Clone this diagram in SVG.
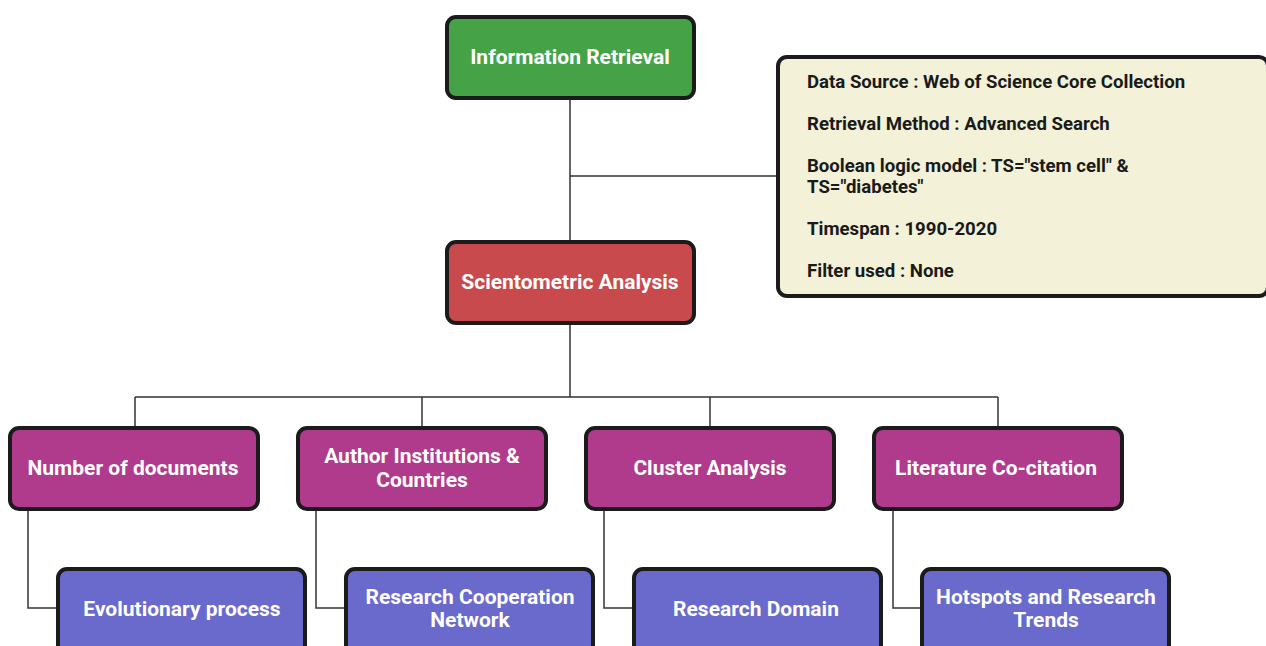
<svg xmlns="http://www.w3.org/2000/svg" width="1266" height="646" viewBox="0 0 1266 646">
<style>
.box{stroke:#1b1b1b;stroke-width:4}
.t{font-family:Roboto,"Liberation Sans",sans-serif;font-weight:bold;font-size:21px;fill:#ffffff;text-anchor:middle}
.i{font-family:Roboto,"Liberation Sans",sans-serif;font-weight:bold;font-size:18.6px;fill:#1a1a1a}
.c{fill:none;stroke:#333333;stroke-width:1.5}
</style>
<rect width="1266" height="646" fill="#ffffff"/>
<g id="connectors">
<path class="c" d="M570 98V241M570 176H777"/>
<path class="c" d="M570 323V397M135 397H998M135 397V427M422 397V427M710 397V427M998 397V427"/>
<path class="c" d="M28 509V608H57"/>
<path class="c" d="M316 509V608H345"/>
<path class="c" d="M604 509V608H633"/>
<path class="c" d="M893 509V608H921"/>
</g>
<g id="info-retrieval">
<rect class="box" x="447" y="17" width="247" height="81" rx="9" fill="#46a246"/>
<text class="t" x="570" y="64">Information Retrieval</text>
</g>
<g id="details">
<rect class="box" x="778" y="57" width="490" height="239" rx="9" fill="#f3f1d7"/>
<text class="i" x="807" y="88">Data Source : Web of Science Core Collection</text>
<text class="i" x="807" y="130">Retrieval Method : Advanced Search</text>
<text class="i" x="807" y="172">Boolean logic model : TS="stem cell" &amp;</text>
<text class="i" x="807" y="193">TS="diabetes"</text>
<text class="i" x="807" y="235">Timespan : 1990-2020</text>
<text class="i" x="807" y="277">Filter used : None</text>
</g>
<g id="scientometric">
<rect class="box" x="447" y="242" width="247" height="81" rx="9" fill="#c84a4c"/>
<text class="t" x="570" y="289">Scientometric Analysis</text>
</g>
<g id="number-docs">
<rect class="box" x="10" y="428" width="248" height="81" rx="9" fill="#b03a8c"/>
<text class="t" x="133" y="475">Number of documents</text>
</g>
<g id="author-inst">
<rect class="box" x="298" y="428" width="248" height="81" rx="9" fill="#b03a8c"/>
<text class="t" x="422" y="463">Author Institutions &amp;</text>
<text class="t" x="422" y="487">Countries</text>
</g>
<g id="cluster">
<rect class="box" x="586" y="428" width="248" height="81" rx="9" fill="#b03a8c"/>
<text class="t" x="710" y="475">Cluster Analysis</text>
</g>
<g id="co-citation">
<rect class="box" x="874" y="428" width="248" height="81" rx="9" fill="#b03a8c"/>
<text class="t" x="996" y="475">Literature Co-citation</text>
</g>
<g id="evolutionary">
<rect class="box" x="58" y="569" width="247" height="85" rx="9" fill="#6a69cc"/>
<text class="t" x="182" y="616">Evolutionary process</text>
</g>
<g id="cooperation">
<rect class="box" x="346" y="569" width="247" height="85" rx="9" fill="#6a69cc"/>
<text class="t" x="470" y="604">Research Cooperation</text>
<text class="t" x="470" y="627">Network</text>
</g>
<g id="domain">
<rect class="box" x="634" y="569" width="247" height="85" rx="9" fill="#6a69cc"/>
<text class="t" x="756" y="616">Research Domain</text>
</g>
<g id="hotspots">
<rect class="box" x="922" y="569" width="247" height="85" rx="9" fill="#6a69cc"/>
<text class="t" x="1046" y="604">Hotspots and Research</text>
<text class="t" x="1046" y="627">Trends</text>
</g>
</svg>
